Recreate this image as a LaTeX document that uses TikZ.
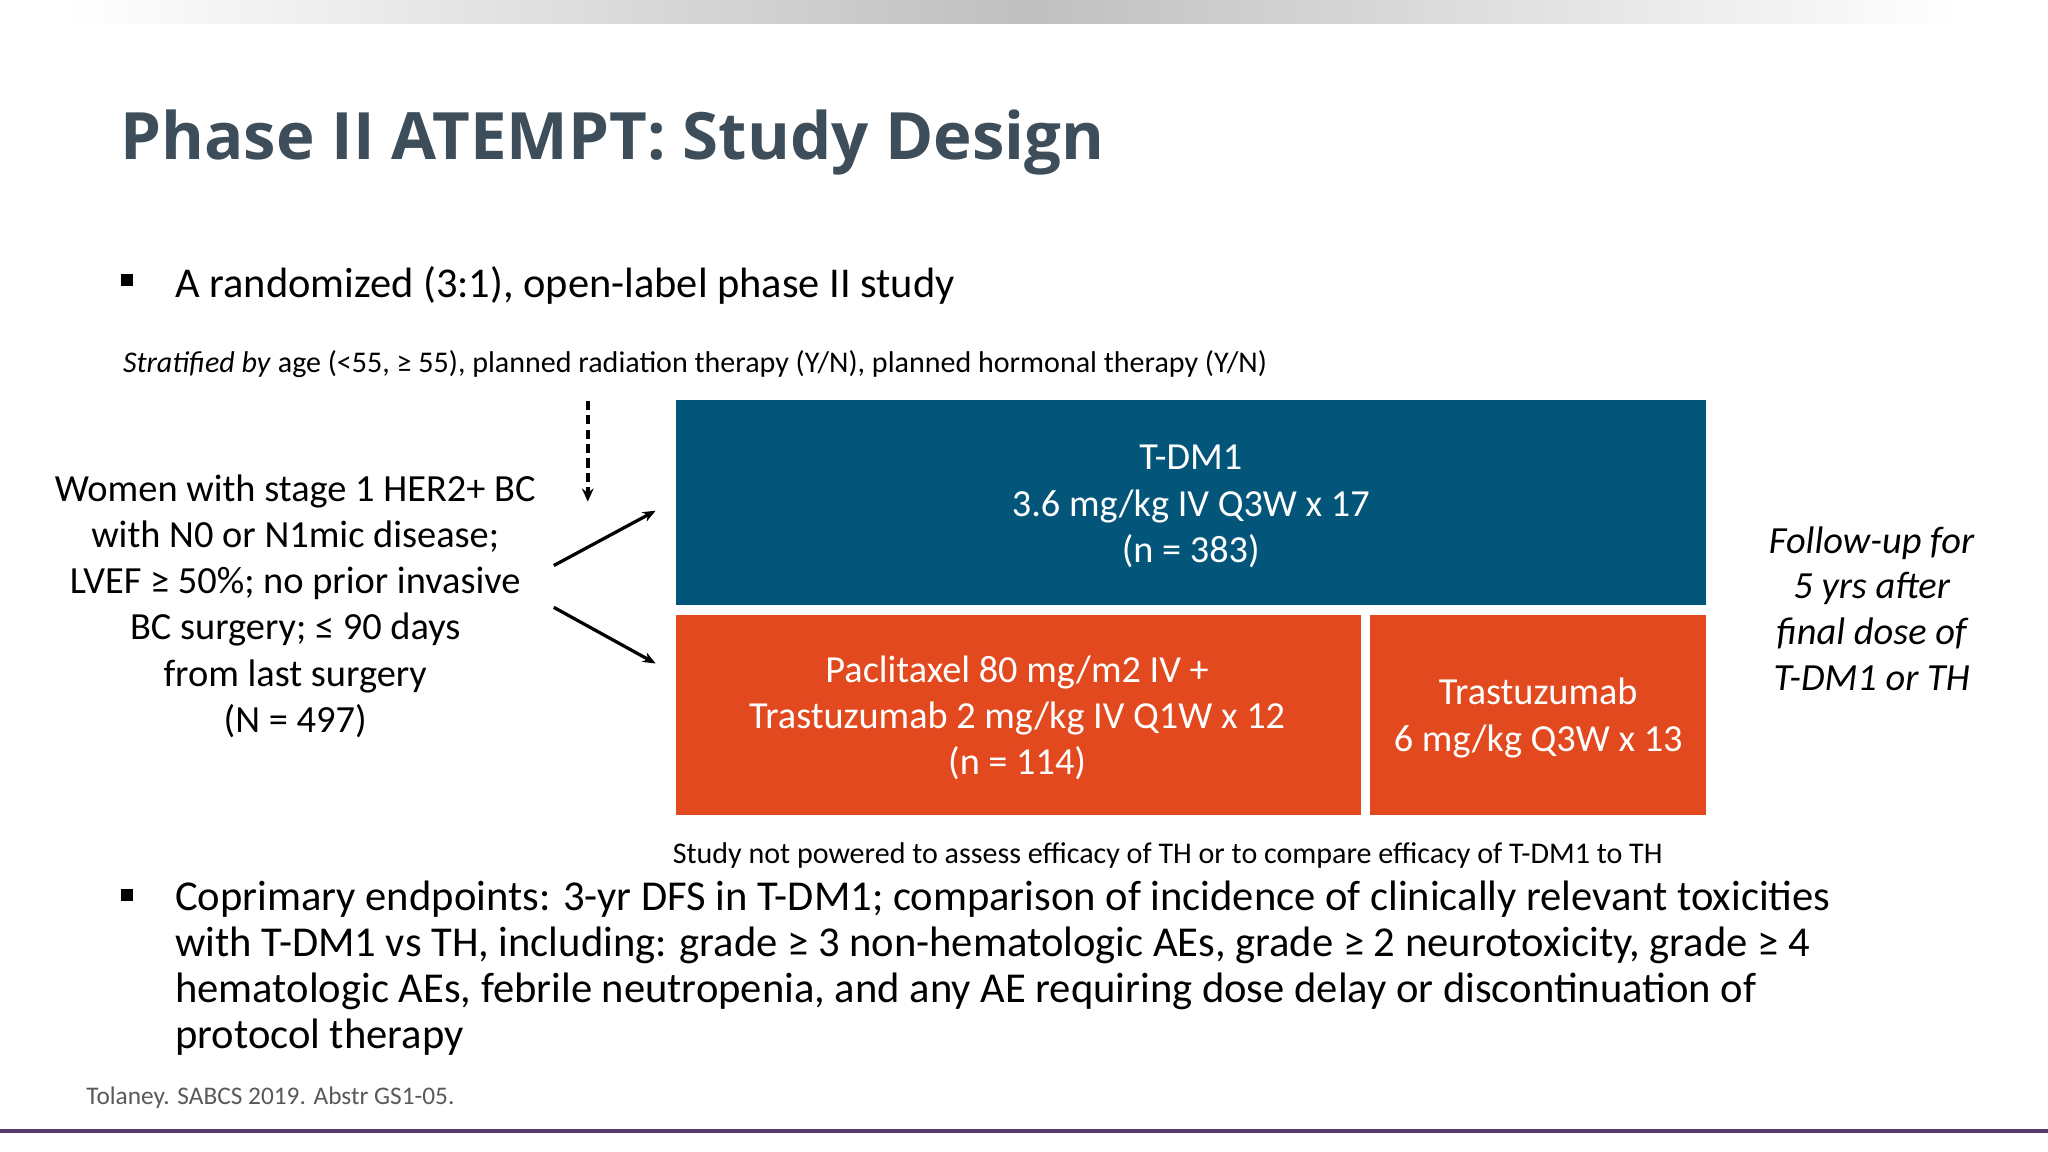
\documentclass[tikz,border=0pt]{standalone}
\usepackage{fontspec}
\setmainfont{Carlito}
\newfontfamily\titlefont{Open Sans}
\usetikzlibrary{arrows.meta}
\definecolor{tblue}{HTML}{03567A}
\definecolor{torange}{HTML}{E2491F}
\definecolor{ttitle}{HTML}{3D4D59}
\definecolor{tpurple}{HTML}{5A3A6E}
\tikzset{
  boxtxt/.style={text=white,font=\fontsize{29.3}{35.3}\selectfont,align=center},
  arm/.style={-{Stealth[length=10pt,width=8pt]},line width=2.5pt},
}
\begin{document}
\begin{tikzpicture}[x=1pt,y=-1pt]
\useasboundingbox (0,0) rectangle (1568,882);
\fill[white] (0,0) rectangle (1568,882);
% top gradient bar
\shade[left color=white,right color=black!25] (50,0) rectangle (784,18);
\shade[left color=black!25,right color=white] (784,0) rectangle (1500,18);
% title
\node[anchor=base west,inner sep=0,text=ttitle,font=\titlefont\bfseries\fontsize{50}{60}\selectfont] (title) at (92,122) {Phase II ATEMPT: Study Design};
% bullet 1
\fill (93,210) rectangle (102,219) coordinate (b1);
\node[anchor=base west,inner sep=0,font=\fontsize{32.5}{38}\selectfont] (t1) at (134,228) {A randomized (3:1), open-label phase II study};
\node[anchor=base west,inner sep=0,font=\fontsize{23}{27}\selectfont] (strat) at (94,285) {\textit{Stratified by} age (<55, ≥ 55), planned radiation therapy (Y/N), planned hormonal therapy (Y/N)};
% dashed arrow
\coordinate (d1) at (450,307);
\coordinate (d2) at (450,384);
\draw[line width=3.2pt,dash pattern=on 7pt off 4pt,-{Stealth[length=10pt,width=9pt]}] (d1) -- (d2);
% left text
\node[align=center,inner sep=0,font=\fontsize{29.4}{35.4}\selectfont] (left) at (226,464) {Women with stage 1 HER2+ BC\\with N0 or N1mic disease;\\LVEF ≥ 50\%; no prior invasive\\BC surgery; ≤ 90 days\\from last surgery\\(N = 497)};
% boxes
\node[fill=tblue,minimum width=789pt,minimum height=157pt,anchor=north west,inner sep=0] (blue) at (517,306) {};
\node[boxtxt] at ([yshift=-3pt]blue.center) {T-DM1\\3.6 mg/kg IV Q3W x 17\\(n = 383)};
\node[fill=torange,minimum width=525pt,minimum height=153pt,anchor=north west,inner sep=0] (or1) at (517,471) {};
\node[boxtxt] at ([xshift=-1pt,yshift=-2pt]or1.center) {Paclitaxel 80 mg/m2 IV +\\Trastuzumab 2 mg/kg IV Q1W x 12\\(n = 114)};
\node[fill=torange,minimum width=257pt,minimum height=153pt,anchor=north west,inner sep=0] (or2) at (1049,471) {};
\node[boxtxt] at ([yshift=-2pt]or2.center) {Trastuzumab\\6 mg/kg Q3W x 13};
% arm arrows
\coordinate (a0) at (424,433);
\coordinate (a1) at (502,391);
\coordinate (a2) at (424,465);
\coordinate (a3) at (502,508);
\draw[arm] (a0) -- (a1);
\draw[arm] (a2) -- (a3);
% follow-up
\node[align=center,inner sep=0,font=\itshape\fontsize{29.4}{35}\selectfont] (fu) at (1433,466) {Follow-up for\\5 yrs after\\final dose of\\T-DM1 or TH};
\node[anchor=base,inner sep=0,font=\fontsize{23}{27}\selectfont] (note) at (894,661) {Study not powered to assess efficacy of TH or to compare efficacy of T-DM1 to TH};
% bullet 2
\fill (93,681) rectangle (102,690) coordinate (b2);
\node[anchor=north west,inner sep=0,align=left,font=\fontsize{32.6}{35.3}\selectfont] (t2) at (134,674) {Coprimary endpoints: 3-yr DFS in T-DM1; comparison of incidence of clinically relevant toxicities\\with T-DM1 vs TH, including: grade ≥ 3 non-hematologic AEs, grade ≥ 2 neurotoxicity, grade ≥ 4\\hematologic AEs, febrile neutropenia, and any AE requiring dose delay or discontinuation of\\protocol therapy};
\node[anchor=base west,inner sep=0,text=black!65,font=\fontsize{19.4}{23}\selectfont] (cite) at (66,846) {Tolaney. SABCS 2019. Abstr GS1-05.};
% bottom line
\coordinate (l1) at (0,866);
\coordinate (l2) at (1568,866);
\draw[tpurple,line width=3pt] (l1) -- (l2);
\end{tikzpicture}
\end{document}
